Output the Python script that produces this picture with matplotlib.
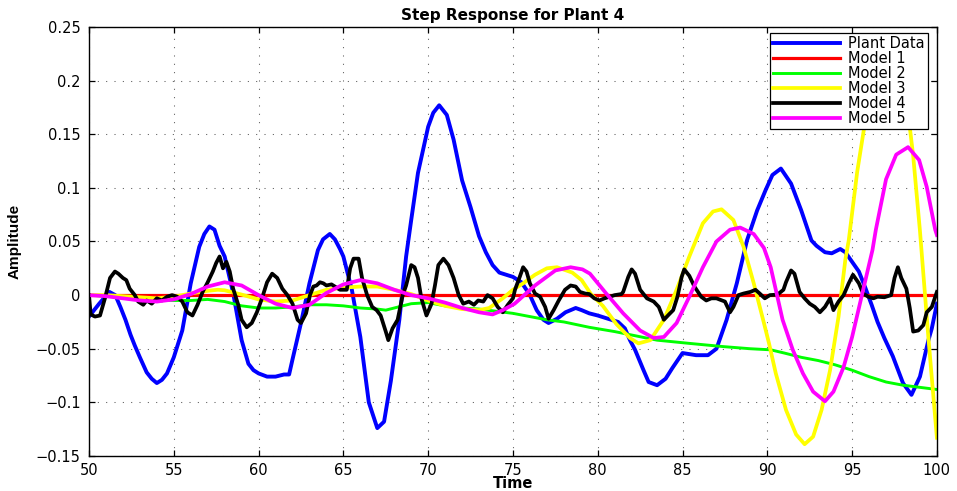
import matplotlib
matplotlib.use("Agg")
import matplotlib.pyplot as plt
from matplotlib.ticker import FixedLocator, FuncFormatter

# step responses sampled by hand over t = 50..100
plant_t = [50.0, 50.6, 51.2, 51.55, 51.85, 52.15, 52.45, 52.7, 53.0, 53.4, 53.7, 54.0, 54.3, 54.6,
           55.0, 55.5, 56.0, 56.5, 56.8, 57.1, 57.4, 57.7, 58.0, 58.5, 59.0, 59.4, 59.7, 60.0,
           60.5, 61.0, 61.5, 61.8, 62.0, 62.5, 63.0, 63.5, 63.8, 64.2, 64.5, 64.8, 65.0, 65.5,
           66.0, 66.5, 67.0, 67.4, 67.8, 68.3, 68.7, 69.0, 69.4, 70.0, 70.3, 70.65, 71.1, 71.5,
           72.0, 72.5, 73.0, 73.4, 73.8, 74.2, 75.0, 75.5, 76.0, 76.4, 76.8, 77.1, 77.6, 78.1,
           78.7, 79.05, 79.5, 80.0, 80.6, 81.2, 81.6, 81.9, 82.2, 82.7, 83.0, 83.5, 84.0, 84.4,
           85.0, 85.8, 86.5, 87.0, 87.6, 88.2, 88.8, 89.4, 89.9, 90.3, 90.8, 91.4, 92.0, 92.6,
           92.9, 93.4, 93.8, 94.3, 94.6, 95.0, 95.4, 95.8, 96.15, 96.5, 96.9, 97.4, 98.0, 98.5,
           99.0, 99.5, 99.7, 100.0]
plant_y = [-0.020, -0.008, 0.003, 0.000, -0.011, -0.023, -0.037, -0.047, -0.058, -0.072, -0.078,
           -0.082, -0.079, -0.073, -0.058, -0.033, 0.011, 0.045, 0.057, 0.064, 0.061, 0.046,
           0.036, 0.002, -0.042, -0.064, -0.070, -0.073, -0.076, -0.076, -0.074, -0.074, -0.060,
           -0.026, 0.011, 0.042, 0.052, 0.057, 0.052, 0.043, 0.036, 0.005, -0.039, -0.100,
           -0.124, -0.118, -0.080, -0.023, 0.036, 0.070, 0.114, 0.157, 0.170, 0.177, 0.168,
           0.145, 0.107, 0.082, 0.055, 0.040, 0.028, 0.021, 0.017, 0.012, 0.000, -0.014, -0.023,
           -0.026, -0.022, -0.016, -0.012, -0.014, -0.017, -0.019, -0.022, -0.025, -0.031,
           -0.042, -0.051, -0.070, -0.081, -0.084, -0.078, -0.068, -0.054, -0.056, -0.056,
           -0.050, -0.023, 0.011, 0.051, 0.079, 0.098, 0.112, 0.118, 0.104, 0.079, 0.051, 0.046,
           0.040, 0.039, 0.043, 0.040, 0.031, 0.022, 0.006, -0.009, -0.025, -0.040, -0.057,
           -0.082, -0.093, -0.076, -0.042, -0.031, -0.008]

m1_t = [50.0, 100.0]
m1_y = [0.0, 0.0]

m2_t = [50, 51, 52, 53, 55, 56, 57, 58, 59, 60, 61, 62, 63, 64, 65, 66, 67, 67.5, 68, 69, 70,
        71, 72, 73, 74, 75, 76, 77, 78, 79.5, 81, 83.5, 85.4, 87.4, 89, 90.2, 91, 92, 93, 94,
        95, 96, 97, 98, 99, 100]
m2_y = [0.000, -0.001, -0.002, -0.004, -0.005, -0.005, -0.004, -0.006, -0.010, -0.012, -0.012,
        -0.011, -0.009, -0.009, -0.010, -0.012, -0.013, -0.014, -0.012, -0.008, -0.007, -0.010,
        -0.012, -0.013, -0.015, -0.017, -0.020, -0.023, -0.025, -0.030, -0.034, -0.042, -0.045,
        -0.048, -0.050, -0.051, -0.054, -0.058, -0.061, -0.065, -0.070, -0.076, -0.081, -0.084,
        -0.086, -0.088]

m3_t = [50, 51, 52, 53, 54, 55, 56, 57, 57.6, 58, 59, 60, 61, 62, 63, 64, 65, 66, 67, 68, 69,
        70, 71, 72, 73, 73.6, 74.4, 75.0, 75.6, 76.3, 77.0, 77.6, 78.5, 79.05, 79.6, 80.3, 81.1,
        81.9, 82.4, 83.1, 83.9, 84.65, 85.4, 86.2, 86.8, 87.3, 88.0, 88.6, 89.2, 89.8, 90.1,
        90.5, 91.1, 91.7, 92.2, 92.7, 93.2, 93.7, 94.2, 94.6, 94.8, 95.3, 95.8, 96.4, 97.1,
        97.8, 98.3, 98.6, 99.0, 99.5, 100.0]
m3_y = [0.000, 0.000, -0.001, -0.002, -0.003, -0.0015, 0.0015, 0.004, 0.005, 0.0045, 0.0005,
        -0.004, -0.006, -0.005, 0.000, 0.005, 0.007, 0.008, 0.008, 0.005, 0.001, -0.005, -0.010,
        -0.013, -0.014, -0.012, -0.003, 0.005, 0.011, 0.019, 0.025, 0.026, 0.021, 0.014, 0.001,
        -0.010, -0.027, -0.040, -0.045, -0.042, -0.023, 0.005, 0.036, 0.067, 0.078, 0.080,
        0.070, 0.045, 0.011, -0.026, -0.045, -0.073, -0.107, -0.130, -0.139, -0.132, -0.107,
        -0.070, -0.020, 0.033, 0.051, 0.115, 0.165, 0.215, 0.235, 0.215, 0.170, 0.130, 0.060,
        -0.040, -0.133]

m4_t = [50.0, 50.1, 50.35, 50.65, 50.94, 51.24, 51.53, 51.73, 52.0, 52.2, 52.4, 52.7, 52.9, 53.2,
        53.4, 53.7, 54.0, 54.3, 54.6, 54.9, 55.2, 55.5, 55.8, 56.1, 56.4, 56.7, 57.0, 57.3,
        57.5, 57.7, 57.9, 58.1, 58.3, 58.5, 58.8, 59.0, 59.3, 59.6, 59.9, 60.2, 60.5, 60.8,
        61.1, 61.4, 61.7, 62.0, 62.3, 62.5, 62.8, 63.03, 63.23, 63.42, 63.62, 63.82, 64.0,
        64.3, 64.5, 64.8, 65.2, 65.4, 65.6, 65.9, 66.1, 66.4, 66.7, 66.96, 67.2, 67.5, 67.65,
        67.9, 68.2, 68.5, 68.7, 69.0, 69.2, 69.4, 69.6, 69.9, 70.2, 70.4, 70.6, 70.9, 71.2,
        71.5, 71.8, 72.07, 72.4, 72.7, 72.95, 73.25, 73.5, 73.8, 74.1, 74.4, 74.7, 75.0, 75.12,
        75.4, 75.6, 75.8, 76.0, 76.3, 76.6, 76.9, 77.1, 77.4, 77.7, 78.07, 78.4, 78.7, 78.95,
        79.25, 79.5, 79.8, 80.1, 80.4, 80.7, 81.0, 81.4, 81.5, 81.8, 82.0, 82.2, 82.5, 82.9,
        83.3, 83.6, 83.9, 84.2, 84.45, 84.7, 84.95, 85.1, 85.4, 85.7, 86.1, 86.4, 86.7, 87.0,
        87.5, 87.8, 88.0, 88.3, 88.6, 89.0, 89.3, 89.55, 89.85, 90.15, 90.6, 90.95, 91.1, 91.4,
        91.6, 91.9, 92.2, 92.5, 92.8, 93.1, 93.4, 93.7, 93.9, 94.2, 94.5, 94.8, 95.05, 95.4,
        95.65, 95.95, 96.25, 96.5, 96.9, 97.3, 97.5, 97.7, 97.9, 98.2, 98.4, 98.6, 98.9, 99.2,
        99.4, 99.7, 100.0]
m4_y = [0.000, -0.018, -0.020, -0.019, -0.003, 0.016, 0.022, 0.020, 0.016, 0.014, 0.006, 0.000,
        -0.006, -0.009, -0.005, -0.008, -0.003, -0.005, -0.0015, 0.000, -0.0015, -0.006, -0.016,
        -0.019, -0.009, 0.003, 0.012, 0.022, 0.030, 0.036, 0.025, 0.031, 0.022, 0.006, -0.009,
        -0.023, -0.030, -0.026, -0.016, -0.003, 0.012, 0.020, 0.016, 0.006, 0.000, -0.008,
        -0.023, -0.026, -0.017, 0.000, 0.008, 0.009, 0.012, 0.011, 0.009, 0.010, 0.008, 0.005,
        0.005, 0.025, 0.034, 0.034, 0.016, 0.000, -0.011, -0.014, -0.019, -0.034, -0.042,
        -0.031, -0.023, 0.000, 0.009, 0.028, 0.026, 0.016, -0.003, -0.019, -0.008, 0.009,
        0.028, 0.034, 0.028, 0.016, 0.000, -0.008, -0.006, -0.009, -0.005, -0.006, 0.000,
        -0.003, -0.011, -0.016, -0.009, -0.003, 0.005, 0.017, 0.026, 0.022, 0.011, 0.0015,
        -0.0015, -0.011, -0.022, -0.014, -0.005, 0.005, 0.009, 0.008, 0.003, 0.0015, 0.001,
        -0.003, -0.005, -0.003, -0.0015, 0.000, 0.001, 0.003, 0.017, 0.024, 0.020, 0.005,
        -0.003, -0.006, -0.011, -0.023, -0.018, -0.014, -0.0015, 0.017, 0.024, 0.018, 0.008,
        -0.0015, -0.005, -0.003, -0.003, -0.006, -0.016, -0.011, 0.000, 0.0015, 0.003, 0.005,
        0.0015, -0.003, 0.000, 0.0005, 0.005, 0.012, 0.023, 0.020, 0.003, -0.003, -0.008,
        -0.011, -0.016, -0.011, -0.003, -0.014, -0.006, 0.000, 0.011, 0.019, 0.011, 0.0015,
        -0.0015, -0.003, -0.0015, -0.002, 0.000, 0.016, 0.026, 0.016, 0.006, -0.012, -0.034,
        -0.033, -0.028, -0.016, -0.011, 0.003]

m5_t = [50, 51, 52, 53, 54, 55, 56, 57, 58, 59, 60, 61, 62, 63, 64, 65, 66, 67, 68, 69, 70, 71,
        72, 73, 73.8, 74.4, 75.1, 76.3, 77.5, 78.4, 79.1, 79.54, 80.5, 81.5, 82.5, 83.3, 83.9,
        84.65, 85.4, 86.2, 87.0, 87.8, 88.4, 89.2, 89.8, 90.2, 90.9, 91.5, 92.1, 92.7, 93.4,
        93.9, 94.5, 95.0, 95.6, 96.2, 96.4, 97.0, 97.6, 98.3, 98.95, 99.4, 99.9, 100.0]
m5_y = [0.000, -0.001, -0.003, -0.005, -0.006, -0.004, 0.001, 0.008, 0.012, 0.009, 0.000,
        -0.008, -0.012, -0.009, 0.002, 0.010, 0.014, 0.011, 0.005, 0.000, -0.003, -0.007,
        -0.012, -0.016, -0.018, -0.014, -0.008, 0.009, 0.023, 0.026, 0.024, 0.020, 0.0015,
        -0.017, -0.033, -0.040, -0.039, -0.026, -0.0015, 0.026, 0.050, 0.061, 0.063, 0.057,
        0.044, 0.026, -0.023, -0.051, -0.073, -0.090, -0.099, -0.090, -0.067, -0.039, 0.0015,
        0.042, 0.061, 0.108, 0.131, 0.138, 0.126, 0.101, 0.061, 0.056]

series_labels = ["Plant Data", "Model 1", "Model 2", "Model 3", "Model 4", "Model 5"]
x_ticks = [50, 55, 60, 65, 70, 75, 80, 85, 90, 95, 100]
y_ticks = [-0.15, -0.1, -0.05, 0, 0.05, 0.1, 0.15, 0.2, 0.25]

# MATLAB default line colours
SERIES_STYLE = [
    ("#0000ff", 2.8),
    ("#ff0000", 2.3),
    ("#00ff00", 2.1),
    ("#ffff00", 2.7),
    ("#000000", 2.7),
    ("#ff00ff", 2.7),
]


def main():
    plt.rcParams["font.family"] = "DejaVu Sans"
    fig = plt.figure(figsize=(9.57, 4.91), dpi=100)
    ax = fig.add_axes([0.093, 0.0713, 0.886, 0.8737])

    data = [(plant_t, plant_y), (m1_t, m1_y), (m2_t, m2_y),
            (m3_t, m3_y), (m4_t, m4_y), (m5_t, m5_y)]
    for (t, y), label, (color, lw) in zip(data, series_labels, SERIES_STYLE):
        ax.plot(t, y, color=color, linewidth=lw, label=label, solid_joinstyle="round")

    ax.set_xlim(50, 100)
    ax.set_ylim(-0.15, 0.25)
    ax.xaxis.set_major_locator(FixedLocator(x_ticks))
    ax.yaxis.set_major_locator(FixedLocator(y_ticks))
    ax.xaxis.set_major_formatter(FuncFormatter(lambda v, _: f"{v:g}"))
    ax.yaxis.set_major_formatter(FuncFormatter(lambda v, _: f"{v:g}".replace("-", "\u2212")))
    ax.tick_params(direction="in", length=4, width=0.9, top=True, right=True,
                   labelsize=10.5, colors="black")
    ax.tick_params(axis="x", pad=5)
    ax.tick_params(axis="y", pad=6)
    ax.grid(True, color="0.35", linewidth=0.75, linestyle=(0, (1, 7)))
    for spine in ax.spines.values():
        spine.set_linewidth(1.0)
        spine.set_color("black")

    ax.set_title("Step Response for Plant 4", fontsize=11, fontweight="bold", pad=5)
    ax.set_xlabel("Time", fontsize=10.5, fontweight="bold")
    ax.xaxis.set_label_coords(0.5, -0.047)
    ax.set_ylabel("Amplitude", fontsize=11, fontweight="bold",
                  family=["Liberation Sans Narrow", "Liberation Sans"])
    ax.yaxis.set_label_coords(-0.08, 0.5)

    leg = ax.legend(loc="upper right", bbox_to_anchor=(0.9894, 0.986), borderaxespad=0,
                    fontsize=10.5, handlelength=4.6, handletextpad=0.55, labelspacing=0.0,
                    borderpad=0.2, fancybox=False, framealpha=1, edgecolor="black")
    leg.get_frame().set_linewidth(0.9)

    fig.savefig("out.png", dpi=100)
    plt.close(fig)


if __name__ == "__main__":
    main()
